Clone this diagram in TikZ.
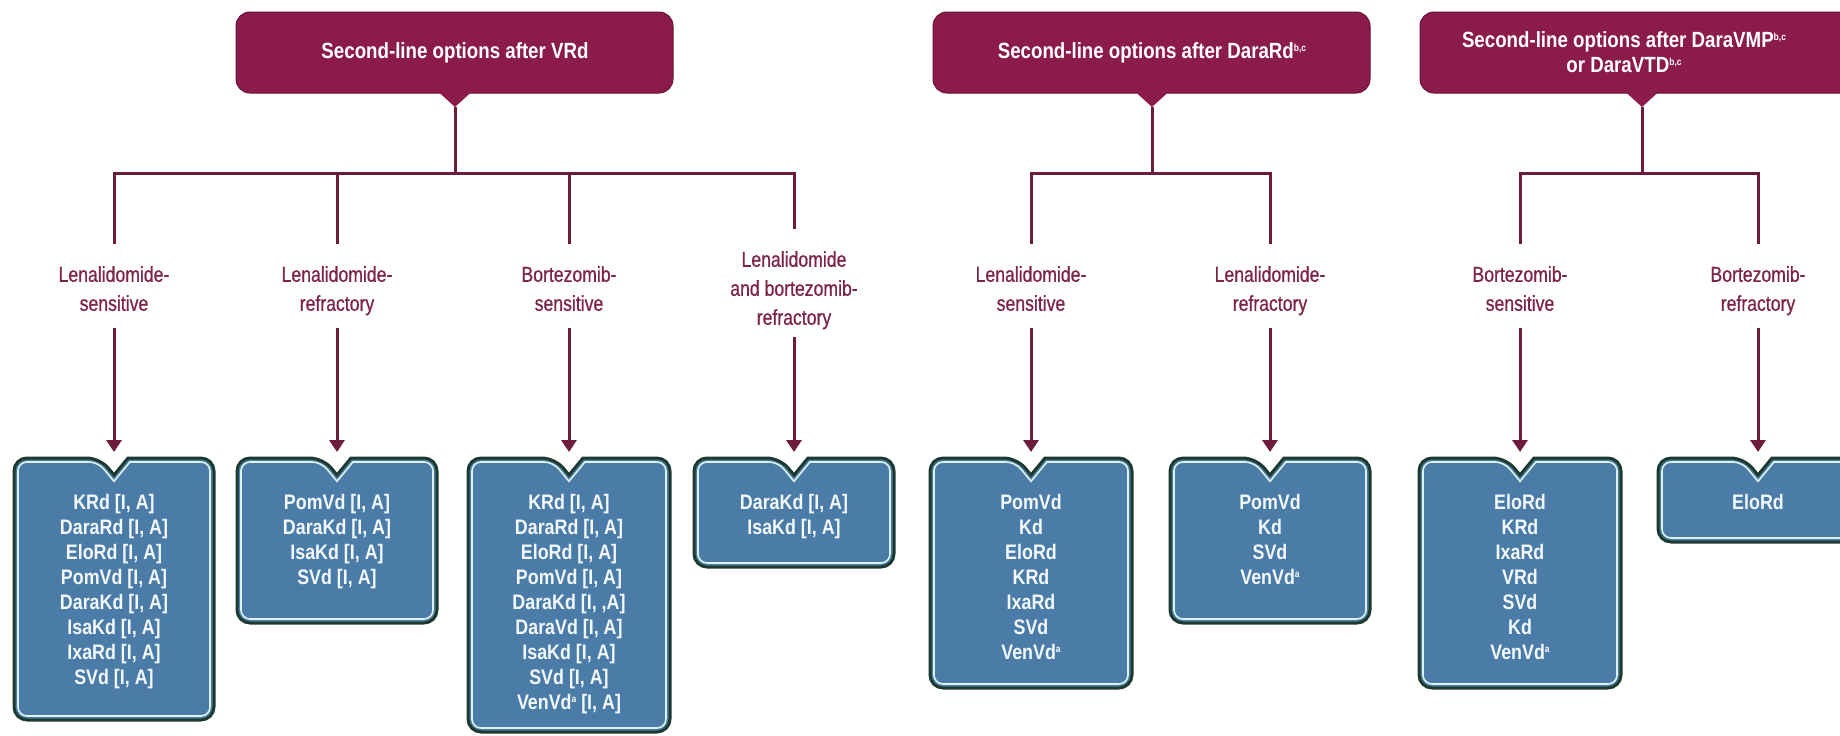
\documentclass[tikz,border=0pt]{standalone}
\usepackage{fontspec}
\setmainfont{Liberation Sans}[FakeStretch=0.85]
\newfontfamily\lblfont{Liberation Sans}[FakeStretch=0.82, FakeBold=0.7]
\usetikzlibrary{arrows.meta}
\definecolor{hdrc}{HTML}{8A1B4A}
\definecolor{hdredge}{HTML}{6A1236}
\definecolor{connc}{HTML}{6E1C3E}
\definecolor{labelc}{HTML}{7C2449}
\definecolor{boxblue}{HTML}{4B7CA8}
\definecolor{boxedge}{HTML}{1E3A2E}
\definecolor{boxlight}{HTML}{DDF3EC}
\definecolor{boxtext}{HTML}{F2F8FC}
\newcommand{\mysup}[1]{\raisebox{7pt}{\fontsize{10}{10}\selectfont #1}}
\newcommand{\hdrshape}[5]{%
  \filldraw[fill=hdrc, draw=hdredge, line width=1pt, rounded corners=14pt] (#1,#3) rectangle (#2,#4);
  \fill[hdrc] ({#5-17},{#4-1.5}) -- (#5,{#4+14}) -- ({#5+17},{#4-1.5}) -- cycle;
}
\newcommand{\optbox}[4]{% cx, top, bottom, halfwidth
  \draw[boxedge, line width=3pt, fill=boxblue]
    ({#1-#4},{(#2+#3)/2}) [rounded corners=13pt] -- ({#1-#4},#2) -- ({#1-14},#2) [sharp corners] -- (#1,{#2+17}) -- ({#1+14},#2) [rounded corners=13pt] -- ({#1+#4},#2) -- ({#1+#4},#3) -- ({#1-#4},#3) -- cycle;
  \draw[boxlight, line width=1.6pt]
    ({#1-#4+4},{(#2+#3)/2}) [rounded corners=9pt] -- ({#1-#4+4},{#2+4}) -- ({#1-15.9},{#2+4}) [sharp corners] -- (#1,{#2+23.3}) -- ({#1+15.9},{#2+4}) [rounded corners=9pt] -- ({#1+#4-4},{#2+4}) -- ({#1+#4-4},{#3-4}) -- ({#1-#4+4},{#3-4}) -- cycle;
}
\tikzset{
  hdrtext/.style={text=white, font=\fontsize{22}{25}\selectfont\bfseries, align=center, inner sep=0pt},
  lbl/.style={text=labelc, font=\lblfont\fontsize{21.5}{29}\selectfont, align=center, inner sep=0pt, anchor=north},
  boxtxt/.style={text=boxtext, font=\fontsize{21}{25}\selectfont\bfseries, align=center, inner sep=0pt, anchor=north},
  conn/.style={draw=connc, line width=3pt},
  arr/.style={draw=connc, line width=3pt, -{Triangle[width=15pt,length=12pt]}},
}
\begin{document}
\begin{tikzpicture}[x=1pt,y=-1pt]
\useasboundingbox (0,0) rectangle (1840,736);
\clip (0,0) rectangle (1840,736);
\fill[white] (0,0) rectangle (1840,736);

% headers
\hdrshape{236}{673}{12}{93}{455}
\hdrshape{933}{1370}{12}{93}{1152}
\hdrshape{1420}{1870}{12}{93}{1642}
\node[hdrtext] (h1) at (455,53) {Second-line options after VRd};
\node[hdrtext] (h2) at (1152,53) {Second-line options after DaraRd\mysup{b,c}};
\node[hdrtext] (h3) at (1624,52) {Second-line options after DaraVMP\mysup{b,c}\\or DaraVTD\mysup{b,c}};
\coordinate (n1) at (455,107);
\coordinate (n2) at (1152,107);
\coordinate (n3) at (1642,107);

% labels
\node[lbl] (l1) at (114,266) {Lenalidomide-\\sensitive};
\node[lbl] (l2) at (337,266) {Lenalidomide-\\refractory};
\node[lbl] (l3) at (569,266) {Bortezomib-\\sensitive};
\node[lbl] (l4) at (794,251) {Lenalidomide\\and bortezomib-\\refractory};
\node[lbl] (l5) at (1031,266) {Lenalidomide-\\sensitive};
\node[lbl] (l6) at (1270,266) {Lenalidomide-\\refractory};
\node[lbl] (l7) at (1520,266) {Bortezomib-\\sensitive};
\node[lbl] (l8) at (1758,266) {Bortezomib-\\refractory};

% boxes
\optbox{114}{458}{720}{100}
\optbox{337}{458}{623}{100}
\optbox{569}{458}{732}{101}
\optbox{794}{458}{567}{100}
\optbox{1031}{458}{688}{101}
\optbox{1270}{458}{623}{100}
\optbox{1520}{458}{688}{101}
\optbox{1758}{458}{542}{100}

\node[boxtxt] (b1) at (114,494) {KRd [I, A]\\DaraRd [I, A]\\EloRd [I, A]\\PomVd [I, A]\\DaraKd [I, A]\\IsaKd [I, A]\\IxaRd [I, A]\\SVd [I, A]};
\node[boxtxt] (b2) at (337,494) {PomVd [I, A]\\DaraKd [I, A]\\IsaKd [I, A]\\SVd [I, A]};
\node[boxtxt] (b3) at (569,494) {KRd [I, A]\\DaraRd [I, A]\\EloRd [I, A]\\PomVd [I, A]\\DaraKd [I, ,A]\\DaraVd [I, A]\\IsaKd [I, A]\\SVd [I, A]\\VenVd\mysup{a} [I, A]};
\node[boxtxt] (b4) at (794,494) {DaraKd [I, A]\\IsaKd [I, A]};
\node[boxtxt] (b5) at (1031,494) {PomVd\\Kd\\EloRd\\KRd\\IxaRd\\SVd\\VenVd\mysup{a}};
\node[boxtxt] (b6) at (1270,494) {PomVd\\Kd\\SVd\\VenVd\mysup{a}};
\node[boxtxt] (b7) at (1520,494) {EloRd\\KRd\\IxaRd\\VRd\\SVd\\Kd\\VenVd\mysup{a}};
\node[boxtxt] (b8) at (1758,494) {EloRd};

\foreach \i/\x in {1/114,2/337,3/569,4/794,5/1031,6/1270,7/1520,8/1758}
  \coordinate (t\i) at (\x,452);

% tree connectors
\foreach \l in {l1,l2,l3,l4} \draw[conn, shorten >=22pt] (n1) -- ++(0,66) -| (\l.north);
\foreach \l in {l5,l6} \draw[conn, shorten >=22pt] (n2) -- ++(0,66) -| (\l.north);
\foreach \l in {l7,l8} \draw[conn, shorten >=22pt] (n3) -- ++(0,66) -| (\l.north);

% arrows to boxes
\foreach \i in {1,2,3,5,6,7,8} \draw[arr] ([yshift=-62pt]l\i.north) -- (t\i);
\draw[arr] ([yshift=-86pt]l4.north) -- (t4);
\end{tikzpicture}
\end{document}
